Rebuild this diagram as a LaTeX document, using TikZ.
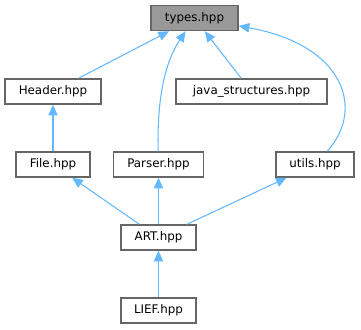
\documentclass[tikz,border=0pt]{standalone}
\usepackage{fontspec}
\setmainfont{DejaVu Sans}
\usetikzlibrary{arrows.meta}

\definecolor{edgeblue}{RGB}{99,184,255}
\definecolor{boxline}{RGB}{102,102,102}
\definecolor{boxfill}{RGB}{153,153,153}

\tikzset{every picture/.style={line width=0.75pt}}
\tikzset{
  file/.style={draw=boxline, fill=white, line width=1.1pt, minimum height=18.75pt, inner sep=0.75pt, font=\fontsize{8.9}{10}\selectfont},
  incl/.style={draw=edgeblue, line width=0.8pt, -{Triangle[length=8pt,width=7pt]}}
}

\begin{document}
\begin{tikzpicture}[x=0.75pt,y=0.75pt,yscale=-1,xscale=1]
\useasboundingbox (0,0) rectangle (361,329);

%Shape: Rectangle [types]
\node (types) at (194.5,18) [file, fill=boxfill, minimum width=65.25pt] {types.hpp};
%Shape: Rectangle [second row]
\node (header) at (53,91.5) [file, minimum width=72pt] {Header.hpp};
\node (javast) at (251.5,91.5) [file, minimum width=113.25pt] {java\_structures.hpp};
%Shape: Rectangle [third row]
\node (file) at (53,164.5) [file, minimum width=55.5pt] {File.hpp};
\node (parser) at (158.5,164.5) [file, minimum width=67.5pt] {Parser.hpp};
\node (utils) at (315,164.5) [file, minimum width=58.5pt] {utils.hpp};
%Shape: Rectangle [bottom]
\node (art) at (158.5,237.5) [file, minimum width=56.25pt] {ART.hpp};
\node (lief) at (158.5,310.5) [file, minimum width=56.25pt] {LIEF.hpp};

%Straight Lines
\draw [incl] (header) -- (types);
\draw [incl] (javast) -- (types);
\draw [incl] (file) -- (header);
\draw [incl] (art) -- (file);
\draw [incl] (art) -- (parser);
\draw [incl] (art) -- (utils);
\draw [incl] (lief) -- (art);
%Curve Lines
\draw [incl] (parser) .. controls (157,105) and (163,65) .. (types);
\draw [incl] (utils) .. controls (365,110) and (345,45) .. (types);

\end{tikzpicture}
\end{document}
